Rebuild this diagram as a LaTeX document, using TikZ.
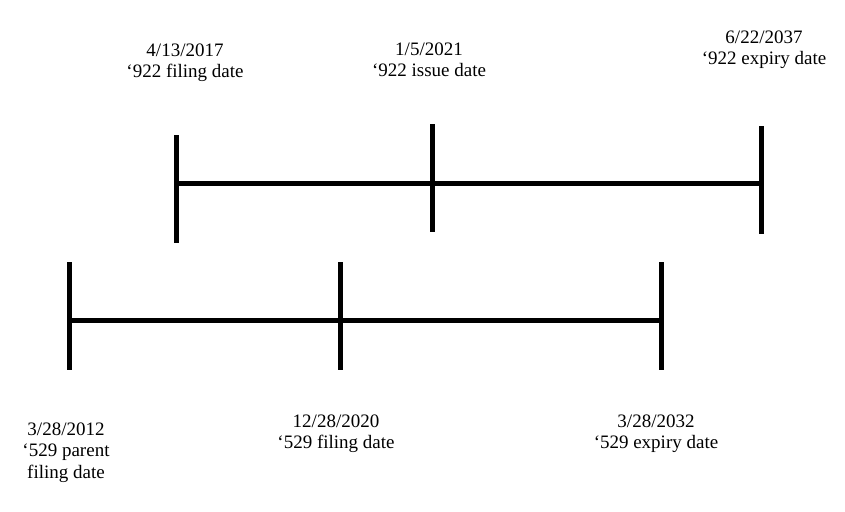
\documentclass[tikz,border=0pt]{standalone}
\usepackage{fontspec}
\setmainfont{Liberation Serif}
\begin{document}
\begin{tikzpicture}[x=1pt,y=-1pt,line width=5pt,
    datelabel/.style={align=center,anchor=north,inner sep=0pt,
        font=\fontsize{19}{21.5}\selectfont}]

    \useasboundingbox (0,0) rectangle (845,511);

    %'922 dates:
    \coordinate (filing922) at (176,183);
    \coordinate (issue922) at (432,183);
    \coordinate (expiry922) at (761,183);

    %'529 dates:
    \coordinate (parent529) at (69,320);
    \coordinate (filing529) at (340,320);
    \coordinate (expiry529) at (661,320);

    %draw timelines:
    \draw (filing922) -- (issue922) -- (expiry922);
    \draw (parent529) -- (filing529) -- (expiry529);

    %draw ticks:
    \draw (filing922) ++(0,-48) -- ++(0,108);
    \draw (issue922) ++(0,-59) -- ++(0,108);
    \draw (expiry922) ++(0,-57) -- ++(0,108);
    \draw (parent529) ++(0,-58) -- ++(0,108);
    \draw (filing529) ++(0,-58) -- ++(0,108);
    \draw (expiry529) ++(0,-58) -- ++(0,108);

    %labels:
    \node[datelabel] (filing922label) at (185,41) {4/13/2017\\‘922 filing date};
    \node[datelabel] (issue922label) at (429,40) {1/5/2021\\‘922 issue date};
    \node[datelabel] (expiry922label) at (764,28) {6/22/2037\\‘922 expiry date};
    \node[datelabel] (parent529label) at (66,420) {3/28/2012\\‘529 parent\\filing date};
    \node[datelabel] (filing529label) at (336,412) {12/28/2020\\‘529 filing date};
    \node[datelabel] (expiry529label) at (656,412) {3/28/2032\\‘529 expiry date};

\end{tikzpicture}
\end{document}
